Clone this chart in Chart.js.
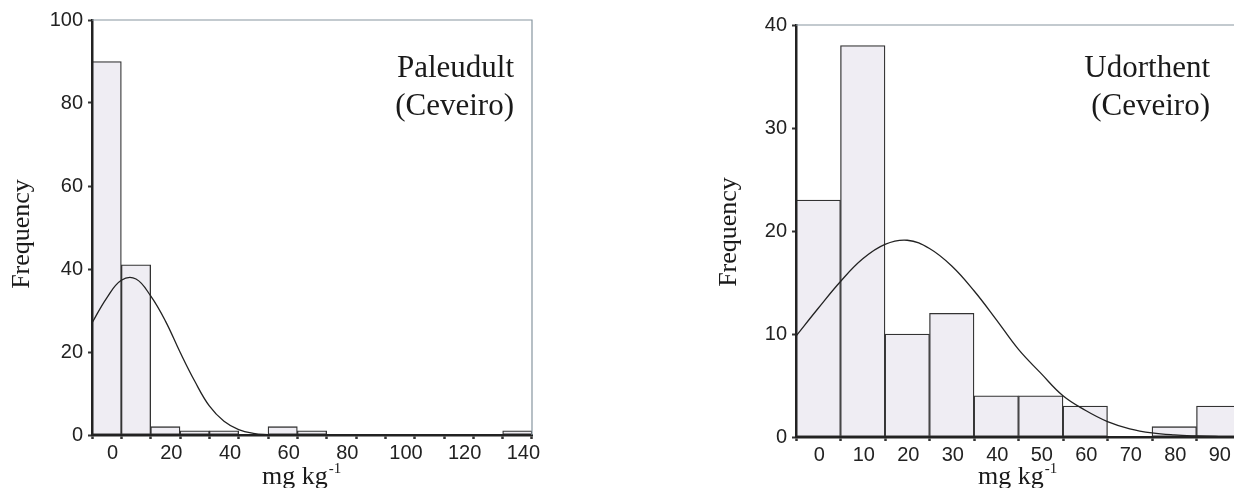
<!DOCTYPE html>
<html>
<head>
<meta charset="utf-8">
<script src="https://cdn.jsdelivr.net/npm/chart.js@4.4.1/dist/chart.umd.min.js"></script>
<style>
    html, body { margin: 0; padding: 0; background: #fff; overflow: hidden; }
    body { width: 1234px; height: 488px; position: relative; }
    .box { position: absolute; top: 0; width: 560px; height: 488px; }
</style>
</head>
<body>
<div class="box" style="left:0px"><canvas id="leftChart" width="560" height="488"></canvas></div>
<div class="box" style="left:700px"><canvas id="rightChart" width="560" height="488"></canvas></div>
<script>
// Paleudult (Ceveiro) histogram, bins 10 mg/kg wide
const leftBins = [0, 10, 20, 30, 40, 50, 60, 70, 80, 90, 100, 110, 120, 130, 140];
const leftCounts = [90, 41, 2, 1, 1, 0, 2, 1, 0, 0, 0, 0, 0, 0, 1];
// normal curve
const leftCurveX = [-5, 0, 5, 10, 15, 20, 25, 30, 35, 40, 45, 50, 55, 60, 65];
const leftCurveY = [27, 33, 37.3, 37.6, 33.5, 27.5, 20, 13, 7, 3.3, 1.3, 0.4, 0.1, 0, 0];
const leftXTicks = [0, 10, 20, 30, 40, 50, 60, 70, 80, 90, 100, 110, 120, 130, 140];
const leftXLabels = [0, 20, 40, 60, 80, 100, 120, 140];
const leftYTicks = [0, 20, 40, 60, 80, 100];

// Udorthent (Ceveiro) histogram
const rightBins = [0, 10, 20, 30, 40, 50, 60, 70, 80, 90];
const rightCounts = [23, 38, 10, 12, 4, 4, 3, 0, 1, 3];
const rightCurveX = [-5, 0, 5, 10, 15, 20, 25, 30, 35, 40, 45, 50, 55, 60, 65, 70, 75, 80, 85, 90, 95];
const rightCurveY = [9.8, 12.5, 15.1, 17.3, 18.7, 19.1, 18.3, 16.6, 14.2, 11.4, 8.5, 6.2, 4.0, 2.6, 1.5, 0.8, 0.4, 0.2, 0.1, 0.04, 0];
const rightXTicks = [0, 10, 20, 30, 40, 50, 60, 70, 80, 90];
const rightXLabels = [0, 10, 20, 30, 40, 50, 60, 70, 80, 90];
const rightYTicks = [0, 10, 20, 30, 40];

const SANS = '"Liberation Sans", Arial, sans-serif';
const SERIF = '"Liberation Serif", "Times New Roman", serif';

// frame lines, soil name and axis titles
const decor = {
    id: 'decor',
    afterDraw(chart, args, opts) {
        const ctx = chart.ctx;
        const a = chart.chartArea;
        ctx.save();
        ctx.strokeStyle = '#8796a0';
        ctx.lineWidth = 1.2;
        ctx.beginPath();
        ctx.moveTo(a.left, a.top);
        ctx.lineTo(a.right, a.top);
        ctx.lineTo(a.right, a.bottom);
        ctx.stroke();

        ctx.fillStyle = '#1a1a1a';
        ctx.textBaseline = 'alphabetic';
        ctx.font = '31px ' + SERIF;
        ctx.textAlign = 'right';
        ctx.fillText(opts.name, opts.nameX, 77);
        ctx.fillText('(Ceveiro)', opts.nameX, 115);

        // x title with superscript
        ctx.textAlign = 'left';
        ctx.font = '26px ' + SERIF;
        ctx.fillText('mg kg', opts.xTitleX, 484);
        const w = ctx.measureText('mg kg').width;
        ctx.font = '15px ' + SERIF;
        ctx.fillText('-1', opts.xTitleX + w + 1, 473);

        // y title
        ctx.font = '26px ' + SERIF;
        ctx.textAlign = 'center';
        ctx.translate(opts.yTitleX, opts.yTitleY);
        ctx.rotate(-Math.PI / 2);
        ctx.fillText('Frequency', 0, 0);
        ctx.restore();
    }
};

function makeHist(id, s) {
    const bars = s.bins.map((b, i) => ({x: b, y: s.counts[i]}));
    const curve = s.curveX.map((x, i) => ({x: x, y: s.curveY[i]}));
    return new Chart(document.getElementById(id), {
        type: 'bar',
        data: {
            datasets: [{
                    type: 'line',
                    data: curve,
                    borderColor: '#222',
                    borderWidth: 1.3,
                    pointRadius: 0,
                    tension: 0.4,
                    order: 0
                }, {
                    data: bars,
                    backgroundColor: '#efedf3',
                    borderColor: '#333',
                    borderWidth: 1.3,
                    borderSkipped: false,
                    barPercentage: 1,
                    categoryPercentage: 1,
                    order: 1
                }]
        },
        options: {
            responsive: false,
            animation: false,
            layout: {padding: {left: 0, top: s.top, right: s.right, bottom: 0}},
            plugins: {legend: {display: false}, tooltip: {enabled: false}, decor: s.decor},
            scales: {
                x: {
                    type: 'linear',
                    min: s.xMin,
                    max: s.xMax,
                    offset: false,
                    afterFit: sc => { sc.height = s.xHeight; },
                    afterBuildTicks: sc => { sc.ticks = s.xTicks.map(v => ({value: v})); },
                    grid: {drawOnChartArea: false, drawTicks: true, tickLength: 4, tickWidth: 2.5, tickColor: '#333'},
                    border: {display: true, color: '#222', width: 2.5, z: 1},
                    ticks: {
                        autoSkip: false,
                        maxRotation: 0,
                        padding: 2,
                        labelOffset: s.labelOffset,
                        color: '#222',
                        font: {family: SANS, size: 20},
                        callback: v => s.xLabels.includes(v) ? String(v) : ''
                    }
                },
                y: {
                    min: 0,
                    max: s.yMax,
                    afterFit: sc => { sc.width = s.yWidth; },
                    afterBuildTicks: sc => { sc.ticks = s.yTicks.map(v => ({value: v})); },
                    grid: {drawOnChartArea: false, drawTicks: true, tickLength: 4, tickWidth: 2, tickColor: '#333'},
                    border: {display: true, color: '#222', width: 2.5, z: 1},
                    ticks: {padding: 5, color: '#222', font: {family: SANS, size: 20}}
                }
            }
        },
        plugins: [decor]
    });
}

makeHist('leftChart', {
    bins: leftBins, counts: leftCounts, curveX: leftCurveX, curveY: leftCurveY,
    xTicks: leftXTicks, xLabels: leftXLabels, yTicks: leftYTicks,
    xMin: -5, xMax: 145, yMax: 100,
    top: 20, right: 28, yWidth: 92, xHeight: 53, labelOffset: 6,
    decor: {name: 'Paleudult', nameX: 514, xTitleX: 262, yTitleX: 29, yTitleY: 234}
});

makeHist('rightChart', {
    bins: rightBins, counts: rightCounts, curveX: rightCurveX, curveY: rightCurveY,
    xTicks: rightXTicks, xLabels: rightXLabels, yTicks: rightYTicks,
    xMin: -5, xMax: 95, yMax: 40,
    top: 25, right: 19, yWidth: 96, xHeight: 51, labelOffset: 1,
    decor: {name: 'Udorthent', nameX: 510, xTitleX: 278, yTitleX: 36, yTitleY: 232}
});
</script>
</body>
</html>
